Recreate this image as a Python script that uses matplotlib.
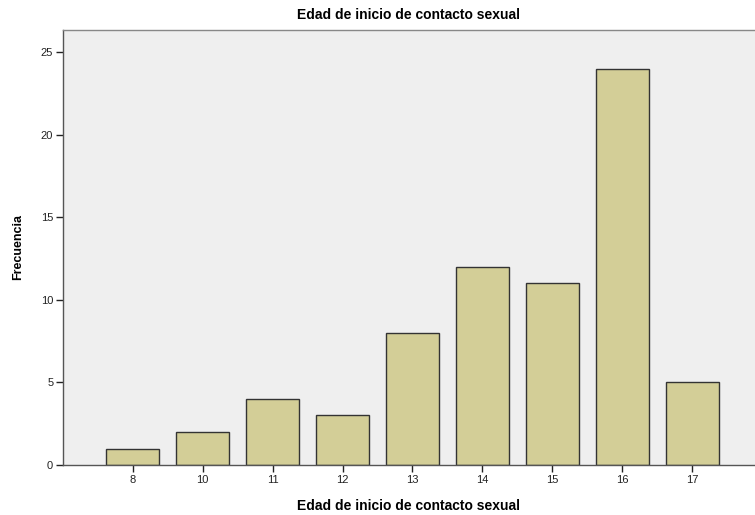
import numpy as np
import matplotlib
matplotlib.use('Agg')
import matplotlib.pyplot as plt

plt.rcParams['font.family'] = ['Liberation Sans', 'DejaVu Sans']

# datos
Edades = ['8', '10', '11', '12', '13', '14', '15', '16', '17']
Frecuencia = [1, 2, 4, 3, 8, 12, 11, 24, 5]

fig = plt.figure(figsize=(7.55, 5.15), dpi=100)
ax = fig.add_axes([0.0834, 0.097, 0.9166, 0.845])
ax.set_facecolor('#efefef')

x = np.arange(len(Edades))
ax.bar(x, Frecuencia, width=0.76, color='#d3ce97', edgecolor='#333333', linewidth=1.0, zorder=2)

ax.set_xlim(-1, 8.9)
ax.set_ylim(0, 26.35)
ax.set_xticks(x)
ax.set_xticklabels(Edades)
ax.set_yticks([0, 5, 10, 15, 20, 25])

for s in ['top', 'left', 'bottom']:
    ax.spines[s].set_color('#555555')
    ax.spines[s].set_linewidth(1.0)
ax.spines['top'].set_color('#888888')
ax.spines['right'].set_visible(False)

ax.tick_params(axis='both', labelsize=8, colors='#222222', length=5, width=1.0, pad=2)

ax.set_title('Edad de inicio de contacto sexual', fontsize=10, fontweight='bold', pad=8)
ax.set_xlabel('Edad de inicio de contacto sexual', fontsize=10, fontweight='bold', labelpad=10)
ax.set_ylabel('Frecuencia', fontsize=9, fontweight='bold', labelpad=12)

fig.savefig('out.png', dpi=100)
